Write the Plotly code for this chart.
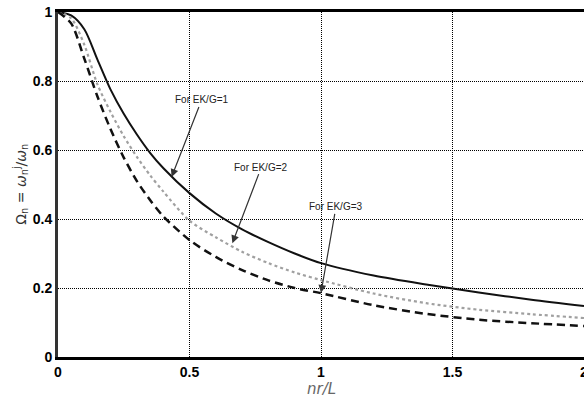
import plotly.graph_objects as go

x_vals = [0, 0.05, 0.1, 0.15, 0.2, 0.25, 0.3, 0.35, 0.4, 0.5, 0.6, 0.7, 0.8, 0.9,
          1.0, 1.2, 1.4, 1.6, 1.8, 2.0]
y_ekg1 = [1.0, 0.99, 0.95, 0.862, 0.775, 0.705, 0.645, 0.592, 0.548, 0.475, 0.416,
          0.37, 0.333, 0.3, 0.272, 0.236, 0.21, 0.187, 0.166, 0.148]
y_ekg2 = [1.0, 0.982, 0.905, 0.79, 0.71, 0.64, 0.58, 0.527, 0.48, 0.395, 0.347,
          0.305, 0.272, 0.245, 0.223, 0.184, 0.156, 0.137, 0.124, 0.113]
y_ekg3 = [1.0, 0.967, 0.865, 0.755, 0.66, 0.578, 0.51, 0.455, 0.408, 0.339, 0.29,
          0.252, 0.222, 0.2, 0.185, 0.15, 0.125, 0.108, 0.098, 0.09]

x_ticks = [0, 0.5, 1, 1.5, 2]
x_tick_labels = ["0", "0.5", "1", "1.5", "2"]
y_ticks = [0, 0.2, 0.4, 0.6, 0.8, 1]
y_tick_labels = ["0", "0.2", "0.4", "0.6", "0.8", "1"]

labels = ["For EK/G=1", "For EK/G=2", "For EK/G=3"]
label_heads = [(0.432, 0.522), (0.663, 0.330), (1.0, 0.186)]
label_offsets = [(30, -77), (29, -76), (15, -86)]

fig = go.Figure()
fig.add_trace(go.Scatter(x=x_vals, y=y_ekg1, mode="lines", name="EK/G=1",
                         line=dict(color="#111111", width=2, shape="spline", smoothing=0.8)))
fig.add_trace(go.Scatter(x=x_vals, y=y_ekg2, mode="lines", name="EK/G=2",
                         line=dict(color="#a0a0a0", width=2.2, dash="dot", shape="spline", smoothing=0.8)))
fig.add_trace(go.Scatter(x=x_vals, y=y_ekg3, mode="lines", name="EK/G=3",
                         line=dict(color="#111111", width=2.5, dash="8px,5px", shape="spline", smoothing=0.8)))

for txt, (hx, hy), (ax, ay) in zip(labels, label_heads, label_offsets):
    fig.add_annotation(x=hx, y=hy, xref="x", yref="y", text=txt, showarrow=True,
                       ax=ax, ay=ay, arrowhead=2, arrowsize=1.3, arrowwidth=1.2,
                       arrowcolor="#333333",
                       font=dict(family="Liberation Sans, Arial", size=10, color="#222222"))

# axis titles
fig.add_annotation(x=0.5, y=-0.094, xref="paper", yref="paper", showarrow=False,
                   text="<i>nr/L</i>", xanchor="center", yanchor="middle",
                   font=dict(family="DejaVu Sans", size=15, color="#666666"))
fig.add_annotation(x=-0.072, y=0.5, xref="paper", yref="paper", showarrow=False,
                   textangle=-90, xanchor="center", yanchor="middle",
                   text="Ω<sub>n</sub> = <i>ω</i><sub>n</sub><sup>j</sup>/<i>ω</i><sub>n</sub>",
                   font=dict(family="DejaVu Sans", size=14, color="#333333"))

fig.update_layout(
    width=584, height=397,
    margin=dict(l=58, r=0, t=12, b=40),
    paper_bgcolor="white", plot_bgcolor="white",
    showlegend=False,
    font=dict(family="Liberation Sans, Arial", color="black"),
)
fig.update_xaxes(range=[0, 2], tickvals=x_ticks, ticktext=x_tick_labels,
                 showgrid=True, gridcolor="black", gridwidth=1, griddash="1px,1px",
                 showline=True, linecolor="black", linewidth=3, mirror=True,
                 zeroline=False, ticks="", automargin=False, ticklabeloverflow="allow",
                 tickfont=dict(family="Liberation Sans, Arial", size=14, color="black", weight="bold"))
fig.update_yaxes(range=[0, 1], tickvals=y_ticks, ticktext=y_tick_labels,
                 showgrid=True, gridcolor="black", gridwidth=1, griddash="1px,1px",
                 showline=True, linecolor="#333333", linewidth=3,
                 zeroline=False, ticks="", automargin=False,
                 tickfont=dict(family="Liberation Sans, Arial", size=14, color="black", weight="bold"))

fig.write_html("out.html", config={"displayModeBar": False},
               post_script="document.body.style.margin='0';document.body.style.overflow='hidden';")
